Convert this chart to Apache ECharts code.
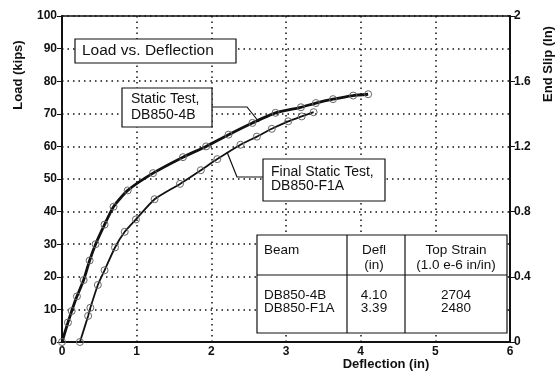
<!DOCTYPE html>
<html><head><meta charset="utf-8">
<script src="https://cdn.jsdelivr.net/npm/echarts@6/dist/echarts.min.js"></script>
<style>html,body{margin:0;padding:0;background:#fff}#c{width:556px;height:375px}</style>
</head><body><div id="c"></div>
<script>
// Static Test, DB850-4B
const staticX = [0, 0.08, 0.13, 0.2, 0.29, 0.37, 0.45, 0.57, 0.69, 0.88, 1.22, 1.62, 1.93, 2.23, 2.55, 2.86, 3.2, 3.4, 3.63, 3.9, 4.1];
const staticY = [0, 6, 9.5, 14, 19, 25, 30, 36, 41.5, 46.5, 51.8, 56.7, 60, 63.6, 67.2, 70.3, 72, 73.3, 74.5, 75.6, 76];
// Final Static Test, DB850-F1A
const f1aX = [0.24, 0.35, 0.38, 0.48, 0.57, 0.71, 0.84, 0.99, 1.24, 1.58, 1.86, 2.08, 2.39, 2.61, 2.81, 3.03, 3.21, 3.37];
const f1aY = [0, 8, 10.5, 17.5, 22, 29, 33.8, 37.6, 43.8, 48.5, 52.7, 56.1, 60.5, 63, 65.4, 67.7, 69.2, 70.5];
// table
const tableHeader = ["Beam", "Defl", "(in)", "Top Strain", "(1.0 e-6 in/in)"];
const beams = ["DB850-4B", "DB850-F1A"];
const defl = ["4.10", "3.39"];
const strain = ["2704", "2480"];

const F = '"Liberation Sans", Arial, sans-serif';
const chart = echarts.init(document.getElementById('c'), null, {renderer: 'canvas'});
const pair = (xs, ys) => xs.map((x, i) => [x, ys[i]]);
const txt = (x, y, t, size, align, weight) => ({
  type: 'text', x: x, y: y, z: 100,
  style: {text: t, font: (weight || 'normal') + ' ' + size + 'px ' + F, fill: '#111', textAlign: align || 'left', textVerticalAlign: 'middle'}
});
const rect = (x, y, w, h) => ({type: 'rect', z: 90, shape: {x: x, y: y, width: w, height: h}, style: {fill: '#fff', stroke: '#111', lineWidth: 1.2}});
const line = (pts) => ({type: 'polyline', z: 95, shape: {points: pts}, style: {stroke: '#111', lineWidth: 1.2, fill: null}});

chart.setOption({
  animation: false,
  backgroundColor: '#fff',
  grid: {left: 62, right: 46, top: 16, bottom: 33, show: true, borderColor: '#111', borderWidth: 1.5},
  xAxis: {
    type: 'value', min: 0, max: 6, interval: 1,
    axisLine: {lineStyle: {color: '#111', width: 2}},
    axisTick: {show: false},
    axisLabel: {color: '#111', fontFamily: F, fontSize: 12, fontWeight: 'bold', margin: 4},
    splitLine: {show: true, lineStyle: {color: '#111', type: [1.5, 4], width: 1.5}}
  },
  yAxis: [{
    type: 'value', min: 0, max: 100, interval: 10,
    axisLine: {show: true, lineStyle: {color: '#111', width: 2}},
    axisTick: {show: true, length: 5, lineStyle: {color: '#111'}},
    axisLabel: {color: '#111', fontFamily: F, fontSize: 12, fontWeight: 'bold', margin: 5},
    splitLine: {show: true, lineStyle: {color: '#111', type: [1.5, 4], width: 1.5}}
  }, {
    type: 'value', min: 0, max: 2, interval: 0.4, position: 'right',
    axisLine: {show: true, lineStyle: {color: '#111', width: 2}},
    axisTick: {show: true, length: 5, lineStyle: {color: '#111'}},
    axisLabel: {color: '#111', fontFamily: F, fontSize: 12, fontWeight: 'bold', margin: 4,
      formatter: v => String(+v.toFixed(1))},
    splitLine: {show: false}
  }],
  series: [{
    type: 'line', name: 'Static Test, DB850-4B', data: pair(staticX, staticY),
    smooth: 0.2, symbol: 'circle', symbolSize: 7,
    lineStyle: {color: '#111', width: 2.8},
    itemStyle: {color: 'rgba(0,0,0,0)', borderColor: '#666', borderWidth: 1}, z: 5
  }, {
    type: 'line', name: 'Final Static Test, DB850-F1A', data: pair(f1aX, f1aY),
    smooth: 0.2, symbol: 'circle', symbolSize: 7,
    lineStyle: {color: '#111', width: 1.8},
    itemStyle: {color: 'rgba(0,0,0,0)', borderColor: '#666', borderWidth: 1}, z: 5
  }],
  graphic: [
    // axis names
    {type: 'text', x: 18, y: 75, rotation: Math.PI / 2, z: 100,
      style: {text: 'Load (kips)', font: 'bold 13px ' + F, fill: '#111', textAlign: 'center', textVerticalAlign: 'middle'}},
    {type: 'text', x: 548, y: 64, rotation: Math.PI / 2, z: 100,
      style: {text: 'End Slip (In)', font: 'bold 13px ' + F, fill: '#111', textAlign: 'center', textVerticalAlign: 'middle'}},
    txt(386, 364, 'Deflection (in)', 13, 'center', 'bold'),
    // title box
    rect(75, 39, 161, 24),
    txt(82, 51, 'Load vs. Deflection', 15.5, 'left'),
    // static test label
    line([[212, 107], [247, 107], [259, 122]]),
    rect(122, 88, 90, 39),
    txt(131, 99, 'Static Test,', 14, 'left'),
    txt(131, 115, 'DB850-4B', 14, 'left'),
    // final static test label
    line([[263, 177], [237, 177], [227, 152]]),
    rect(263, 159, 122, 42),
    txt(271, 172, 'Final Static Test,', 14, 'left'),
    txt(271, 186, 'DB850-F1A', 14, 'left'),
    // table
    rect(257, 235, 250, 98),
    line([[257, 275], [507, 275]]),
    line([[347, 235], [347, 333]]),
    line([[405, 235], [405, 333]]),
    txt(264, 250, tableHeader[0], 13.5, 'left'),
    txt(374, 250, tableHeader[1], 13.5, 'center'),
    txt(374, 265, tableHeader[2], 13.5, 'center'),
    txt(456, 250, tableHeader[3], 13.5, 'center'),
    txt(456, 265, tableHeader[4], 13.5, 'center'),
    txt(264, 295, beams[0], 13.5, 'left'),
    txt(264, 308, beams[1], 13.5, 'left'),
    txt(374, 295, defl[0], 13.5, 'center'),
    txt(374, 308, defl[1], 13.5, 'center'),
    txt(456, 295, strain[0], 13.5, 'center'),
    txt(456, 308, strain[1], 13.5, 'center')
  ]
});
</script></body></html>
